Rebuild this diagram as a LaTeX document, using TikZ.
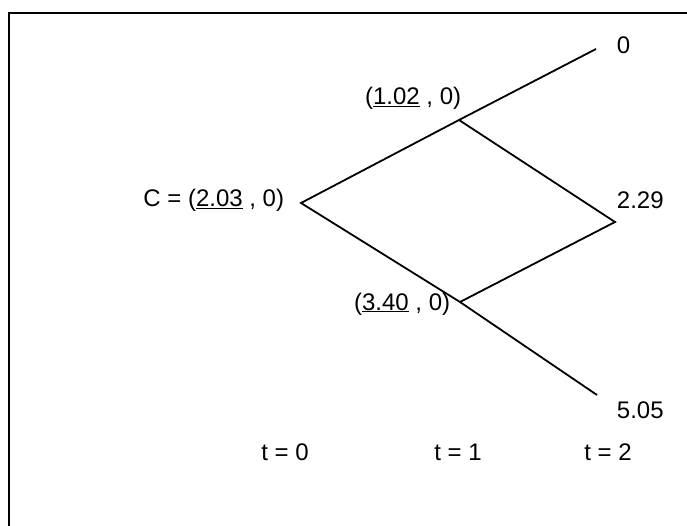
\documentclass[tikz,border=0pt]{standalone}
\usepackage{fontspec}
\setmainfont{Liberation Sans}
\begin{document}
\begin{tikzpicture}[x=1pt, y=-1pt, line width=1.8pt,
    every node/.style={font=\fontsize{24}{28}\selectfont, inner sep=0pt}]
  \useasboundingbox (0,0) rectangle (687,526);
  \draw[line width=1.4pt] (687,13) -- (9,13) -- (9,526);
  \coordinate (R) at (301,203); \coordinate (U) at (459,120); \coordinate (D) at (460,302);
  \coordinate (UU) at (596,49); \coordinate (M) at (615,222); \coordinate (DD) at (597,395);
  \draw (UU)--(U)--(R)--(D)--(DD);
  \draw (U)--(M)--(D);
  \node[anchor=base east] (cR) at (285,207) {C = (\underline{2.03} , 0)};
  \node[anchor=base east] (cU) at (462,105) {(\underline{1.02} , 0)};
  \node[anchor=base east] (cD) at (451,310) {(\underline{3.40} , 0)};
  \foreach \n/\y/\v in {UU/54/0, M/209/2.29, DD/418/5.05}
    \node[anchor=base west] (v\n) at (616,\y) {\v};
  \foreach \n/\x in {0/285, 1/458, 2/608}
    \node[anchor=base] (t\n) at (\x,460) {t = \n};
\end{tikzpicture}
\end{document}
